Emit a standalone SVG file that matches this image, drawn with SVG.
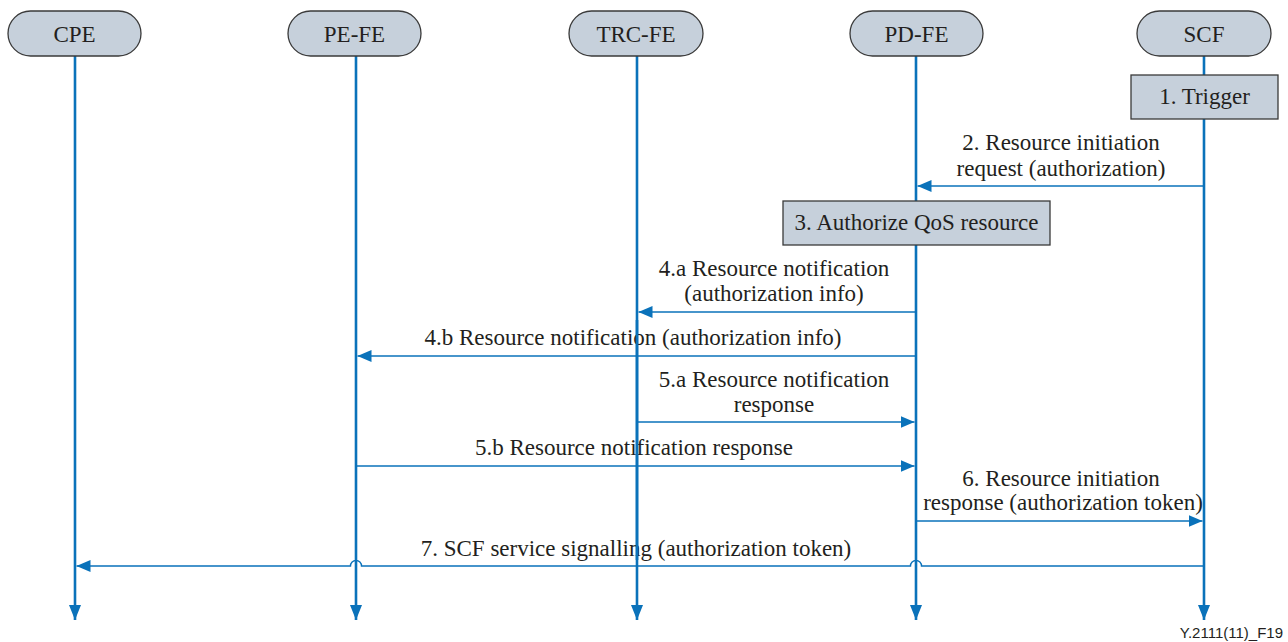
<svg xmlns="http://www.w3.org/2000/svg" width="1288" height="642" viewBox="0 0 1288 642">
  <style>
    .node rect { fill: #c6d0db; stroke: #3a3a3a; stroke-width: 1.3; }
    .box rect { fill: #c6d0db; stroke: #3a3a3a; stroke-width: 1.3; }
    text { font-family: "Liberation Serif", "Times New Roman", serif; font-size: 23px; fill: #231f20; text-anchor: middle; }
    .life { stroke: #0a72ba; stroke-width: 2.6; fill: none; }
    .msg { stroke: #0a72ba; stroke-width: 1.4; fill: none; }
    .ref { font-family: "Liberation Sans", Arial, sans-serif; font-size: 15px; text-anchor: end; }
  </style>
  <defs>
    <marker id="arrow" viewBox="0 0 14 12" refX="14" refY="6" markerWidth="14" markerHeight="12" markerUnits="userSpaceOnUse" orient="auto">
      <path d="M0,0 L14,6 L0,12 z" fill="#0a72ba"/>
    </marker>
    <marker id="lifeEnd" viewBox="0 0 15 12" refX="15" refY="6" markerWidth="15" markerHeight="12" markerUnits="userSpaceOnUse" orient="auto">
      <path d="M0,0 L15,6 L0,12 z" fill="#0a72ba"/>
    </marker>
  </defs>

  <!-- lifelines -->
  <g id="lifelines">
    <line class="life" x1="75" y1="56" x2="75" y2="620" marker-end="url(#lifeEnd)"/>
    <line class="life" x1="356" y1="56" x2="356" y2="620" marker-end="url(#lifeEnd)"/>
    <line class="life" x1="637" y1="56" x2="637" y2="620" marker-end="url(#lifeEnd)"/>
    <line class="life" x1="916" y1="56" x2="916" y2="620" marker-end="url(#lifeEnd)"/>
    <line class="life" x1="1204" y1="56" x2="1204" y2="620" marker-end="url(#lifeEnd)"/>
  </g>

  <!-- participants -->
  <g id="cpe" class="node">
    <rect x="8" y="11" width="133" height="45" rx="22.5"/>
    <text x="74.5" y="42">CPE</text>
  </g>
  <g id="pe-fe" class="node">
    <rect x="288" y="11" width="133" height="45" rx="22.5"/>
    <text x="354.5" y="42">PE-FE</text>
  </g>
  <g id="trc-fe" class="node">
    <rect x="569" y="11" width="134" height="45" rx="22.5"/>
    <text x="636" y="42">TRC-FE</text>
  </g>
  <g id="pd-fe" class="node">
    <rect x="850" y="11" width="133" height="45" rx="22.5"/>
    <text x="916.5" y="42">PD-FE</text>
  </g>
  <g id="scf" class="node">
    <rect x="1137" y="11" width="134" height="45" rx="22.5"/>
    <text x="1204" y="42">SCF</text>
  </g>

  <!-- local actions -->
  <g id="step1" class="box">
    <rect x="1131" y="75" width="147" height="44"/>
    <text x="1204.5" y="104">1. Trigger</text>
  </g>
  <g id="step3" class="box">
    <rect x="783" y="201" width="267" height="44"/>
    <text x="916.5" y="230">3. Authorize QoS resource</text>
  </g>

  <!-- messages -->
  <g id="messages">
    <line class="msg" x1="1204" y1="186" x2="917.5" y2="186" marker-end="url(#arrow)"/>
    <line class="msg" x1="916" y1="312" x2="638.5" y2="312" marker-end="url(#arrow)"/>
    <line class="msg" x1="916" y1="356" x2="357.5" y2="356" marker-end="url(#arrow)"/>
    <line class="msg" x1="637" y1="422" x2="914.5" y2="422" marker-end="url(#arrow)"/>
    <line class="msg" x1="356" y1="466" x2="914.5" y2="466" marker-end="url(#arrow)"/>
    <line class="msg" x1="916" y1="521" x2="1202.5" y2="521" marker-end="url(#arrow)"/>
    <path class="msg" d="M1204,566 H921.5 A5.5,5.5 0 0 0 910.5,566 H361.5 A5.5,5.5 0 0 0 350.5,566 H76.5" marker-end="url(#arrow)"/>
  </g>

  <!-- message labels -->
  <g id="labels">
    <text x="1061" y="150">2. Resource initiation</text>
    <text x="1061" y="176">request (authorization)</text>
    <text x="774" y="276">4.a Resource notification</text>
    <text x="774" y="301">(authorization info)</text>
    <text x="633" y="345">4.b Resource notification (authorization info)</text>
    <text x="774" y="387">5.a Resource notification</text>
    <text x="774" y="412">response</text>
    <text x="634" y="455">5.b Resource notification response</text>
    <text x="1061" y="486">6. Resource initiation</text>
    <text x="1063" y="510">response (authorization token)</text>
    <text x="636" y="556">7. SCF service signalling (authorization token)</text>
  </g>

  <!-- lifelines drawn over labels where they cross -->
  <g id="lifeline-overlay">
    <line class="life" x1="637" y1="320" x2="637" y2="560"/>
  </g>

  <text class="ref" x="1283" y="638">Y.2111(11)_F19</text>
</svg>
